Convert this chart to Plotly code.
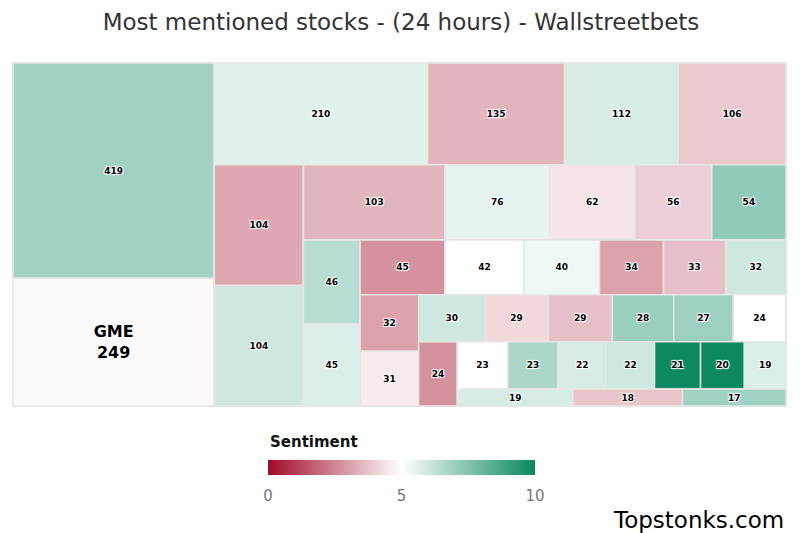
import plotly.graph_objects as go

# Data (mentions in 24h and sentiment score 0-10)
highlight = "GME"
mentions = [419, 249, 210, 135, 112, 106, 104, 104, 103, 76, 62, 56, 54, 46, 45, 45, 42, 40, 34, 33,
            32, 32, 31, 30, 29, 29, 28, 27, 24, 24, 23, 23, 22, 22, 21, 20, 19, 19, 18, 17]
sentiment = [6.9, 4.9, 5.6, 3.5, 5.8, 3.9, 3.25, 6.0, 3.5, 5.5, 4.45, 4.05, 7.2, 6.45, 5.7, 2.75, 5.0, 5.3, 3.1, 3.7,
             6.0, 3.1, 4.6, 6.0, 4.2, 3.7, 7.05, 7.0, 5.0, 2.75, 5.0, 6.7, 5.8, 6.0, 9.9, 9.9, 5.7, 5.8, 3.8, 6.9]
highlight_index = 1
cbar_ticks = [0, 5, 10]

# Layout grouping: number of tiles in each successive strip of the alternating
# (column / row / column ...) squarified layout of the original chart
strip_sizes = [2, 4, 2, 5, 2, 6, 2, 6, 1, 7, 3]

ids, labels, parents, values, colors, templates = [], [], [], [], [], []


def add_node(node_id, label, parent, value, color, template):
    ids.append(node_id)
    labels.append(label)
    parents.append(parent)
    values.append(value)
    colors.append(color)
    templates.append(template)


leaf_tpl = "<span style='font-size:9px'><b>%{value}</b></span>"
gme_tpl = "<b>%{label}<br>%{value}</b>"

add_node("c0", " ", "", 0, 5, " ")
pos = 0
n_strips = len(strip_sizes)
for k, size in enumerate(strip_sizes):
    container = f"c{k}"
    if k < n_strips - 1:
        strip_parent = f"s{k}"
        add_node(strip_parent, " ", container, 0, 5, " ")
    else:
        strip_parent = container
    for i in range(pos, pos + size):
        is_hl = i == highlight_index
        add_node(f"leaf{i}", highlight if is_hl else f"#{i + 1}", strip_parent,
                 mentions[i], sentiment[i], gme_tpl if is_hl else leaf_tpl)
    pos += size
    if k < n_strips - 1:
        add_node(f"c{k + 1}", " ", container, 0, 5, " ")

halo = "1px 1px 1px #fff, -1px -1px 1px #fff, 1px -1px 1px #fff, -1px 1px 1px #fff"

# page body has an 8px margin: figure is sized/offset to compensate
W, H = 792, 525
L, R, T, B = 5, 14, 55, 127
plot_h = H - T - B
plot_w = W - L - R

fig = go.Figure(go.Treemap(
    ids=ids,
    labels=labels,
    parents=parents,
    values=values,
    branchvalues="remainder",
    texttemplate=templates,
    hovertemplate="%{label}: %{value}<extra></extra>",
    textposition="middle center",
    textfont=dict(family="DejaVu Sans", size=16, color="black", shadow=halo),
    marker=dict(
        colors=colors,
        colorscale=[[0, "#a00a2a"], [0.5, "#ffffff"], [1, "#08875f"]],
        cmin=0, cmax=10,
        showscale=True,
        pad=dict(t=0, l=0, r=0, b=0),
        line=dict(color="#e6e6e6", width=1.5),
        colorbar=dict(
            orientation="h",
            tickvals=cbar_ticks,
            ticktext=[str(t) for t in cbar_ticks],
            tickfont=dict(family="DejaVu Sans", size=15, color="#777"),
            ticks="outside", ticklen=8, tickcolor="rgba(0,0,0,0)",
            thickness=15,
            lenmode="pixels", len=267,
            xanchor="left", x=(268 - 13) / plot_w,
            yanchor="top", y=-54 / plot_h,
            outlinewidth=0,
            xpad=0, ypad=0,
        ),
    ),
    sort=False,
    pathbar=dict(visible=False),
    tiling=dict(pad=0, packing="slice-dice"),
))

fig.update_layout(
    width=W, height=H,
    margin=dict(l=L, r=R, t=T, b=B),
    paper_bgcolor="white",
    title=dict(text="Most mentioned stocks - (24 hours) - Wallstreetbets",
               x=(401 - 8) / W, xanchor="center", y=1 - 14 / H, yanchor="middle",
               font=dict(family="DejaVu Sans", size=23, color="#333")),
    font=dict(family="DejaVu Sans"),
    annotations=[
        dict(text="<b>Sentiment</b>", xref="paper", yref="paper",
             x=(268 - 13) / plot_w, y=-36 / plot_h, xanchor="left", yanchor="middle",
             showarrow=False, font=dict(family="DejaVu Sans", size=15, color="#111")),
        dict(text="Topstonks.com", xref="paper", yref="paper",
             x=1.0, y=-114 / plot_h, xanchor="right", yanchor="middle",
             showarrow=False, font=dict(family="DejaVu Sans", size=23, color="black")),
    ],
)

fig.write_html("out.html")
